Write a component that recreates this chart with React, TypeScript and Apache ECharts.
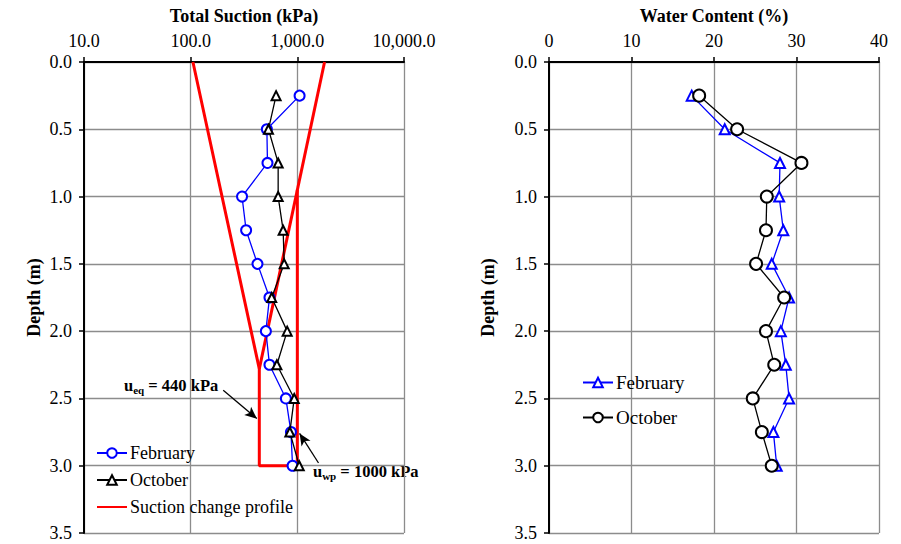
import React, { useEffect, useRef } from "react";
import * as echarts from "echarts";

const depths = [0.25, 0.5, 0.75, 1.0, 1.25, 1.5, 1.75, 2.0, 2.25, 2.5, 2.75, 3.0];
const suctionFeb = [1050, 518, 525, 303, 331, 423, 548, 507, 548, 781, 871, 902];
const suctionOct = [632, 536, 661, 661, 736, 753, 575, 803, 643, 935, 851, 1042];
const wcFeb = [17.3, 21.3, 28.0, 27.9, 28.4, 27.0, 29.1, 28.1, 28.7, 29.1, 27.2, 27.6];
const wcOct = [18.2, 22.8, 30.6, 26.4, 26.3, 25.1, 28.5, 26.3, 27.3, 24.7, 25.8, 27.0];
// suction change profile: V + box
const profileASuction = [105, 440, 440, 1000, 1000];
const profileADepth = [0, 2.28, 3.0, 3.0, 0.95];
const profileBSuction = [1800, 440];
const profileBDepth = [0, 2.28];
const suctionTickLabels = ["10.0", "100.0", "1,000.0", "10,000.0"];
const wcTickLabels = ["0", "10", "20", "30", "40"];
const depthTickLabels = ["0.0", "0.5", "1.0", "1.5", "2.0", "2.5", "3.0", "3.5"];
// annotation arrows (data space of left panel)
const arrowEq = [[202, 2.44], [417, 2.65]];
const arrowWp = [[1580, 2.98], [1050, 2.76]];

const FONT = "'Liberation Serif', 'Times New Roman', serif";

const zip = (xs: number[], ys: number[]) => xs.map((x, i) => [x, ys[i]]);

export default function App() {
  const ref = useRef<HTMLDivElement>(null);
  useEffect(() => {
    if (!ref.current) return;
    const chart = echarts.init(ref.current, null, { renderer: "svg" });
    const axisLabel = { color: "#000", fontFamily: FONT, fontSize: 18 };
    const splitLine = { show: true, lineStyle: { color: "#8c8c8c", width: 1.3 } };
    const axisLine = { show: true, lineStyle: { color: "#000", width: 2 } };
    const axisTick = { show: true, length: 5, lineStyle: { color: "#000", width: 1.5 } };
    const nameStyle = { color: "#000", fontFamily: FONT, fontSize: 18, fontWeight: "bold" as const };
    const yAxisBase = (gridIndex: number, gap: number) => ({
      type: "value",
      gridIndex,
      min: 0,
      max: 3.5,
      interval: 0.5,
      inverse: true,
      name: "Depth (m)",
      nameLocation: "middle",
      nameGap: gap,
      nameTextStyle: nameStyle,
      axisLine,
      axisTick,
      splitLine,
      axisLabel: {
        ...axisLabel,
        margin: 12,
        formatter: (v: number) => depthTickLabels[Math.round(v / 0.5)] ?? "",
      },
    });
    const arrowLine = (pts: number[][]) => [
      { coord: pts[0], symbol: "none" },
      { coord: pts[1], symbol: "arrow" },
    ];
    chart.setOption({
      animation: false,
      backgroundColor: "#fff",
      textStyle: { fontFamily: FONT },
      grid: [
        { left: 84, top: 62, width: 320, height: 471 },
        { left: 549, top: 62, width: 330, height: 471 },
      ],
      xAxis: [
        {
          type: "log",
          gridIndex: 0,
          logBase: 10,
          min: 10,
          max: 10000,
          position: "top",
          name: "Total Suction (kPa)",
          nameLocation: "middle",
          nameGap: 37,
          nameTextStyle: nameStyle,
          axisLine,
          axisTick,
          splitLine,
          minorTick: { show: false },
          axisLabel: {
            ...axisLabel,
            margin: 12,
            formatter: (v: number) => suctionTickLabels[Math.round(Math.log10(v)) - 1] ?? "",
          },
        },
        {
          type: "value",
          gridIndex: 1,
          min: 0,
          max: 40,
          interval: 10,
          position: "top",
          name: "Water Content (%)",
          nameLocation: "middle",
          nameGap: 37,
          nameTextStyle: nameStyle,
          axisLine,
          axisTick,
          splitLine,
          axisLabel: {
            ...axisLabel,
            margin: 12,
            formatter: (v: number) => wcTickLabels[Math.round(v / 10)] ?? "",
          },
        },
      ],
      yAxis: [yAxisBase(0, 41), yAxisBase(1, 52)],
      legend: [
        {
          orient: "vertical",
          left: 96,
          top: 444,
          padding: 0,
          itemWidth: 30,
          itemHeight: 12,
          itemGap: 9,
          textStyle: { color: "#000", fontFamily: FONT, fontSize: 18, padding: [0, 0, 0, -2] },
          data: ["February", "October", "Suction change profile"],
        },
        {
          orient: "vertical",
          left: 582,
          top: 373,
          padding: 0,
          itemWidth: 30,
          itemHeight: 12,
          itemGap: 16,
          textStyle: { color: "#000", fontFamily: FONT, fontSize: 19, padding: [0, 0, 0, -2] },
          formatter: (n: string) => n.replace("WC ", ""),
          data: ["WC February", "WC October"],
        },
      ],
      series: [
        {
          name: "February",
          type: "line",
          xAxisIndex: 0,
          yAxisIndex: 0,
          data: zip(suctionFeb, depths),
          symbol: "emptyCircle",
          symbolSize: 10,
          lineStyle: { color: "#0000ff", width: 1.3 },
          itemStyle: { color: "#0000ff", borderWidth: 1.3 },
          z: 4,
        },
        {
          name: "October",
          type: "line",
          xAxisIndex: 0,
          yAxisIndex: 0,
          data: zip(suctionOct, depths),
          symbol: "emptyTriangle",
          symbolSize: 9,
          lineStyle: { color: "#000", width: 1.3 },
          itemStyle: { color: "#000", borderWidth: 1.3 },
          z: 5,
        },
        {
          name: "Suction change profile",
          type: "line",
          xAxisIndex: 0,
          yAxisIndex: 0,
          data: zip(profileASuction, profileADepth),
          symbol: "line",
          showSymbol: false,
          lineStyle: { color: "#ff0000", width: 3 },
          itemStyle: { color: "#ff0000", borderColor: "#ff0000", borderWidth: 3 },
          z: 3,
          markLine: {
            silent: true,
            symbolSize: [8, 12],
            lineStyle: { color: "#000", width: 1.3, type: "solid" },
            itemStyle: { color: "#000" },
            label: { show: false },
            data: [arrowLine(arrowEq), arrowLine(arrowWp)],
          },
        },
        {
          name: "Suction change profile",
          type: "line",
          xAxisIndex: 0,
          yAxisIndex: 0,
          data: zip(profileBSuction, profileBDepth),
          symbol: "line",
          showSymbol: false,
          lineStyle: { color: "#ff0000", width: 3 },
          itemStyle: { color: "#ff0000", borderColor: "#ff0000", borderWidth: 3 },
          z: 3,
        },
        {
          name: "WC February",
          type: "line",
          xAxisIndex: 1,
          yAxisIndex: 1,
          data: zip(wcFeb, depths),
          symbol: "emptyTriangle",
          symbolSize: 10,
          lineStyle: { color: "#0000ff", width: 1.3 },
          itemStyle: { color: "#0000ff", borderWidth: 1.3 },
        },
        {
          name: "WC October",
          type: "line",
          xAxisIndex: 1,
          yAxisIndex: 1,
          data: zip(wcOct, depths),
          symbol: "emptyCircle",
          symbolSize: 12,
          lineStyle: { color: "#000", width: 1.3 },
          itemStyle: { color: "#000", borderWidth: 1.3 },
        },
      ],
      graphic: [
        {
          type: "text",
          left: 124,
          top: 375,
          style: {
            text: "{a|u}{b|eq}{a| = 440 kPa}",
            rich: {
              a: { fontFamily: FONT, fontSize: 16.5, fontWeight: "bold", fill: "#000", lineHeight: 20, verticalAlign: "middle" },
              b: { fontFamily: FONT, fontSize: 11, fontWeight: "bold", fill: "#000", lineHeight: 20, verticalAlign: "bottom", padding: [9, 0, 0, 0] },
            },
          },
        },
        {
          type: "text",
          left: 313,
          top: 461,
          style: {
            text: "{a|u}{b|wp}{a| = 1000 kPa}",
            rich: {
              a: { fontFamily: FONT, fontSize: 16.5, fontWeight: "bold", fill: "#000", lineHeight: 20, verticalAlign: "middle" },
              b: { fontFamily: FONT, fontSize: 11, fontWeight: "bold", fill: "#000", lineHeight: 20, verticalAlign: "bottom", padding: [9, 0, 0, 0] },
            },
          },
        },
      ],
    });
    return () => chart.dispose();
  }, []);
  return (
    <div
      ref={ref}
      style={{ position: "fixed", left: 0, top: 0, width: 901, height: 544, background: "#fff" }}
    />
  );
}
